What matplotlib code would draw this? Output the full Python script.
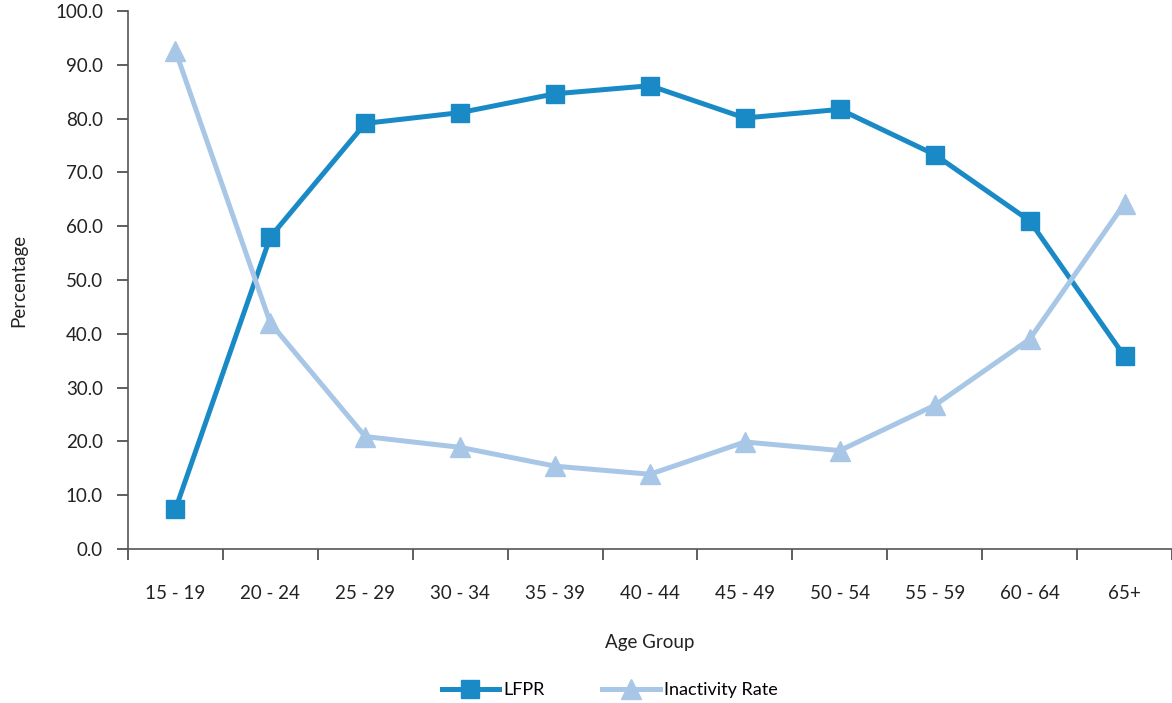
import numpy as np
import matplotlib
matplotlib.use("Agg")
import matplotlib.pyplot as plt

age_groups = ["15 - 19", "20 - 24", "25 - 29", "30 - 34", "35 - 39", "40 - 44",
              "45 - 49", "50 - 54", "55 - 59", "60 - 64", "65+"]
lfpr = [7.4, 58.0, 79.1, 81.1, 84.6, 86.1, 80.1, 81.7, 73.3, 61.0, 35.8]
inactivity = [92.6, 42.0, 20.9, 18.9, 15.4, 13.9, 19.9, 18.3, 26.7, 39.0, 64.2]

plt.rcParams["font.family"] = ["Lato", "DejaVu Sans"]
fs = 13.5

fig = plt.figure(figsize=(11.72, 7.03), dpi=100)
ax = fig.add_axes([0.1092, 0.219, 0.8908, 0.7655])

x = np.arange(len(age_groups))
ax.plot(x, lfpr, color="#1a8ac6", lw=3.6, marker="s", markersize=13,
        label="LFPR", solid_joinstyle="miter")
ax.plot(x, inactivity, color="#a8c7e6", lw=3.6, marker="^", markersize=14,
        label="Inactivity Rate")

ax.set_xlim(-0.5, len(age_groups) - 0.5)
ax.set_ylim(0, 100)
ax.set_yticks(np.arange(0, 101, 10))
ax.set_yticklabels([f"{v:.1f}" for v in np.arange(0, 101, 10)])

# ticks sit on category boundaries, labels in the middle of each category
ax.set_xticks(np.arange(-0.5, len(age_groups), 1.0))
ax.set_xticklabels([])
ax.set_xticks(x, minor=True)
ax.set_xticklabels(age_groups, minor=True)
ax.tick_params(axis="x", which="minor", length=0, pad=26, labelsize=fs, colors="#222222")
ax.tick_params(axis="x", which="major", length=8, width=1.2, color="#444444")
ax.tick_params(axis="y", length=8, width=1.2, color="#444444", pad=10,
               labelsize=fs, labelcolor="#222222")

for side in ["top", "right"]:
    ax.spines[side].set_visible(False)
for side in ["left", "bottom"]:
    ax.spines[side].set_color("#555555")
    ax.spines[side].set_linewidth(1.2)

ax.set_xlabel("Age Group", fontsize=fs, labelpad=23, color="#222222")
ax.set_ylabel("Percentage", fontsize=fs, labelpad=20, color="#222222")

fig.legend(loc="lower center", bbox_to_anchor=(0.52, -0.016), ncol=2, frameon=False,
           fontsize=13, handlelength=3.2, columnspacing=3.2, handletextpad=0.2)

fig.savefig("out.png", dpi=100)
